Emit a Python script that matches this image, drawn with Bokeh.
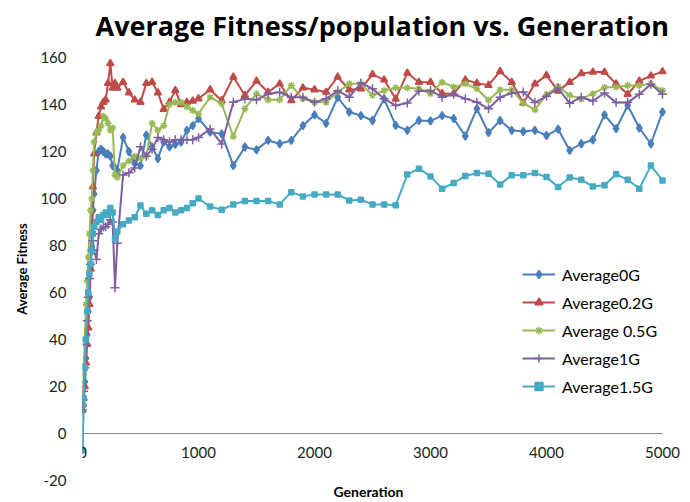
from bokeh.plotting import figure
from bokeh.models import Range1d, FixedTicker, Legend, LegendItem, Title
from bokeh.embed import file_html
from bokeh.resources import INLINE

gens = [0, 10, 20, 30, 40, 50, 60, 70, 80, 90, 100,
        120, 140, 160, 180, 200, 220, 240, 260, 280, 300,
        350, 400, 450, 500, 550, 600, 650, 700, 750, 800, 850, 900, 950, 1000,
        1100, 1200, 1300, 1400, 1500, 1600, 1700, 1800, 1900, 2000,
        2100, 2200, 2300, 2400, 2500, 2600, 2700, 2800, 2900, 3000,
        3100, 3200, 3300, 3400, 3500, 3600, 3700, 3800, 3900, 4000,
        4100, 4200, 4300, 4400, 4500, 4600, 4700, 4800, 4900, 5000]

avg_0g = [-7, 12, 22, 32, 42, 52, 58, 70, 85, 95, 102,
          112, 120, 121, 120, 119, 119, 118, 114, 113, 112,
          126, 120, 115, 114, 127, 122, 117, 124, 122, 123, 124, 129, 131, 134,
          128.3, 127.5, 114, 121.9, 120.7, 124.7, 123.3, 124.7, 131, 135.6,
          132, 143, 136.8, 135.3, 133.2, 142.4, 131.1, 129, 133.2, 133,
          135.3, 134, 126.6, 138.2, 128, 133.2, 129, 128.5, 129, 126.8,
          129.5, 120.5, 123.3, 125, 135.6, 129.7, 139.6, 130, 123.3, 136.8]

avg_02g = [10, 15, 20, 30, 38, 45, 55, 70, 85, 105, 119,
           128, 135, 139, 141, 142, 149, 157.5, 147, 149, 147,
           149.5, 145, 142, 141, 149, 149.5, 145, 138, 141, 146, 140, 141, 141.5, 142.5,
           146.3, 141.7, 151.7, 143.9, 150, 145.3, 148.8, 141.7, 147.1, 146.3,
           145.3, 151.7, 146.3, 146.7, 152.8, 150.5, 142.4, 153.4, 149.5, 149.5,
           144.7, 144.6, 150.5, 149.1, 148.2, 154.1, 149.5, 140.6, 148.8, 152.4,
           145.8, 149.5, 153.2, 153.8, 153.8, 148.8, 144.4, 150, 152.2, 154]

avg_05g = [12, 25, 40, 55, 65, 75, 85, 95, 100, 112, 124,
           128, 129, 131, 135, 134, 132, 129, 130, 110, 109,
           114, 116, 118, 117, 118, 132, 129, 131, 140, 141, 141, 139, 137.5, 136,
           143.1, 140.3, 126.4, 138.2, 144.6, 142, 142, 148.1, 142.4, 141,
           141, 145.3, 148.8, 148.8, 143.9, 146, 147.1, 147.1, 146.7, 144.6,
           149.5, 147.4, 148.8, 146.7, 141.8, 146.3, 146.3, 140.5, 137.8, 144.2,
           147.7, 143.9, 142.4, 144.6, 147.2, 147.4, 148.1, 148.1, 148.8, 146]

avg_1g = [10, 18, 28, 38, 48, 58, 66, 72, 78, 82, 78,
          74, 85, 87, 88, 88, 89, 91, 90, 62, 81,
          110, 111, 113, 122, 118, 121, 126, 125, 124, 125, 125, 125, 125, 126,
          129.6, 123.2, 141, 142.4, 142, 144.5, 145.2, 143.1, 143.1, 141,
          142.4, 145.9, 143.1, 149.2, 146.7, 142.4, 139.6, 140.6, 145.7, 146,
          143.1, 144.4, 142.5, 141, 138.2, 143.1, 144.8, 145.3, 140.8, 143.5,
          147, 140.5, 143.1, 141.5, 144.9, 140.8, 140.8, 144.4, 148.6, 144.4]

avg_15g = [-7, 15, 28, 40, 52, 60, 68, 72, 78, 85, 88,
           90, 92, 91, 93, 94, 93, 96, 94, 83, 86,
           89, 90.6, 92, 97, 93.5, 95, 93, 95, 96, 94, 95, 96, 98, 100,
           96.6, 95.2, 97.5, 98.9, 98.9, 98.9, 97.5, 102.7, 100.9, 101.7,
           101.7, 101.7, 99.2, 99.5, 97.5, 97.5, 97.1, 110.2, 112.7, 109.4,
           104.2, 106.6, 109.6, 110.8, 110.5, 106, 109.9, 109.9, 110.8, 109.1,
           104.9, 108.9, 108, 105.1, 105.6, 110.3, 108, 104.2, 114, 107.7]

series_names = ["Average0G", "Average0.2G", "Average 0.5G", "Average1G", "Average1.5G"]
series_values = [avg_0g, avg_02g, avg_05g, avg_1g, avg_15g]
series_colors = ["#4A7EBB", "#BE4B48", "#98B954", "#7D60A0", "#46AAC5"]
series_markers = ["diamond", "triangle", "asterisk", "cross", "square"]
series_sizes = [8, 7, 7, 9, 5]

x_ticks = [0, 1000, 2000, 3000, 4000, 5000]
y_ticks = [-20, 0, 20, 40, 60, 80, 100, 120, 140, 160]
y_tick_labels = {t: str(t) for t in y_ticks}

W, H = 688, 500
LEFT, TOP, BOTTOM = 82, 57, 20
X_END_PX = 662  # where 5000 sits
x_max = 5000 * (W - LEFT) / (X_END_PX - LEFT)

p = figure(width=W, height=H, output_backend="svg", toolbar_location=None,
           x_range=Range1d(0, x_max), y_range=Range1d(-20, 160),
           min_border_left=LEFT, min_border_right=0, min_border_top=TOP,
           min_border_bottom=BOTTOM)
p.outline_line_color = None
p.grid.visible = False
p.background_fill_color = "white"
p.border_fill_color = "white"

# real title (outermost) plus a small blank spacer title next to the frame
p.title.text = "Average Fitness/population vs. Generation"
p.title.text_font = "Open Sans"
p.title.text_font_size = "27px"
p.title.text_font_style = "bold"
p.title.text_color = "#000000"
p.title.align = "left"
p.title.offset = 13
p.title.standoff = 0

spacer = Title(text=" ", text_font_size="11px", standoff=0)
p.add_layout(spacer, "above")

xa = p.xaxis[0]
xa.fixed_location = 0
xa.bounds = (0, 5000)
xa.ticker = FixedTicker(ticks=x_ticks)
xa.axis_line_color = "#868686"
xa.axis_line_width = 1
xa.major_tick_line_color = None
xa.minor_tick_line_color = None
xa.major_tick_out = 0
xa.major_tick_in = 0
xa.major_label_standoff = 13
xa.major_label_text_font = "Lato"
xa.major_label_text_font_size = "15px"
xa.major_label_text_color = "#222222"

ya = p.yaxis[0]
ya.ticker = FixedTicker(ticks=y_ticks)
ya.major_label_overrides = y_tick_labels
ya.axis_line_color = None
ya.major_tick_line_color = None
ya.minor_tick_line_color = None
ya.major_tick_out = 0
ya.major_tick_in = 0
ya.major_label_standoff = 16
ya.major_label_text_font = "Lato"
ya.major_label_text_font_size = "15px"
ya.major_label_text_color = "#222222"
ya.axis_label = "Average Fitness"
ya.axis_label_text_font = "Lato"
ya.axis_label_text_font_size = "13px"
ya.axis_label_text_font_style = "bold"
ya.axis_label_text_color = "#000000"
ya.axis_label_standoff = 7

xtitle = Title(text="Generation", align="left", offset=251, text_font="Lato",
               text_font_size="14px", text_font_style="bold",
               text_color="#000000", standoff=0)
p.add_layout(xtitle, "below")

items = []
for name, vals, col, mk, sz in zip(series_names, series_values, series_colors,
                                    series_markers, series_sizes):
    lr = p.line(gens, vals, line_color=col, line_width=2)
    sr = p.scatter(gens, vals, marker=mk, size=sz, fill_color=col,
                   line_color=col, line_width=1.5)
    items.append(LegendItem(label=name, renderers=[lr, sr]))

legend = Legend(items=items, location=(440, 84), padding=0, margin=0,
                border_line_color=None, background_fill_alpha=0,
                glyph_width=33, glyph_height=20, label_height=20,
                spacing=8, label_standoff=7,
                label_text_font="Lato", label_text_font_size="16px",
                label_text_color="#000000")
p.add_layout(legend)

open("out.html", "w").write(file_html(p, INLINE))
